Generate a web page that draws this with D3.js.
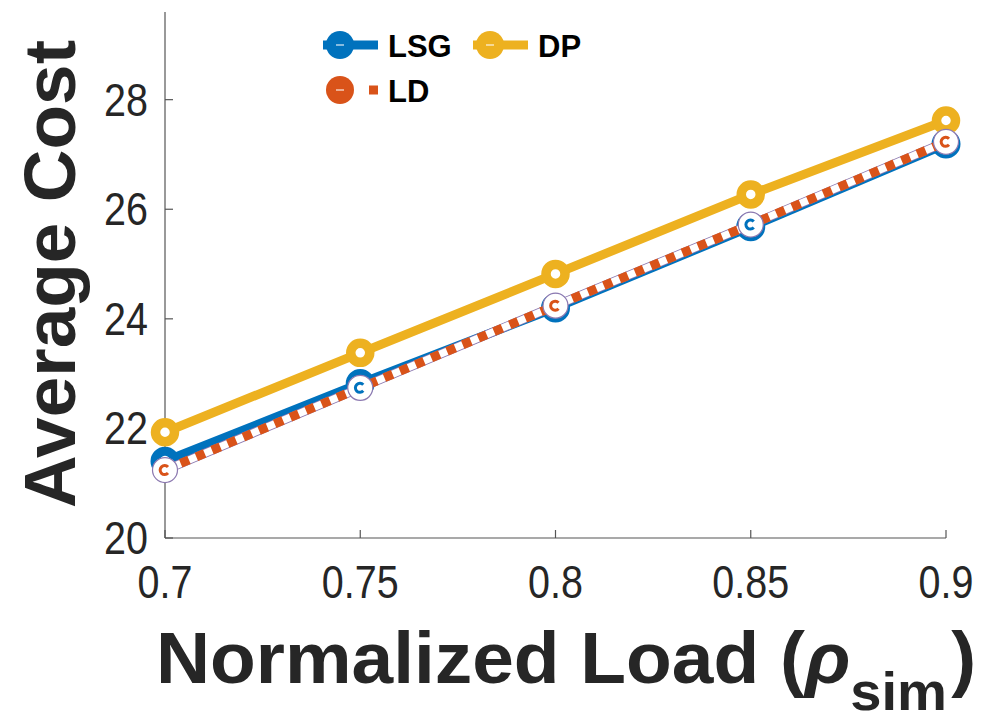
<!DOCTYPE html>
<html>
<head>
<meta charset="utf-8">
<script src="https://d3js.org/d3.v7.min.js"></script>
<style>
body { margin: 0; background: #fff; }
svg { display: block; font-family: "Liberation Sans", Arial, Helvetica, sans-serif; }
</style>
</head>
<body>
<svg width="993" height="722"></svg>
<script>
// data
var loads = [0.7, 0.75, 0.8, 0.85, 0.9];
var lsgCost = [21.4, 22.82, 24.2, 25.68, 27.19];
var ldCost = [21.24, 22.74, 24.24, 25.72, 27.23];
var dpCost = [21.93, 23.38, 24.82, 26.27, 27.62];
var xTicks = [0.7, 0.75, 0.8, 0.85, 0.9];
var yTicks = [20, 22, 24, 26, 28];

var blue = "#0072BD", orange = "#D95319", yellow = "#EDB120";

var svg = d3.select("svg");

var x = d3.scaleLinear().domain([0.7, 0.9]).range([165, 946]);
var y = d3.scaleLinear().domain([20, 29.6]).range([538, 12]);

var line = d3.line()
  .x(function (d) { return x(d[0]); })
  .y(function (d) { return y(d[1]); });

function pts(vals) { return loads.map(function (l, i) { return [l, vals[i]]; }); }

// axes (left + bottom only, ticks inside)
var axisColor = "#555";
svg.append("line").attr("x1", x(0.7)).attr("x2", x(0.9)).attr("y1", y(20)).attr("y2", y(20))
  .attr("stroke", axisColor).attr("stroke-width", 1.2);
svg.append("line").attr("x1", x(0.7)).attr("x2", x(0.7)).attr("y1", y(20)).attr("y2", y(29.6))
  .attr("stroke", axisColor).attr("stroke-width", 1.2);

svg.selectAll("line.xt").data(xTicks).enter().append("line").attr("class", "xt")
  .attr("x1", function (d) { return x(d); }).attr("x2", function (d) { return x(d); })
  .attr("y1", y(20)).attr("y2", y(20) - 8)
  .attr("stroke", axisColor).attr("stroke-width", 1.2);
svg.selectAll("line.yt").data(yTicks).enter().append("line").attr("class", "yt")
  .attr("x1", x(0.7)).attr("x2", x(0.7) + 8)
  .attr("y1", function (d) { return y(d); }).attr("y2", function (d) { return y(d); })
  .attr("stroke", axisColor).attr("stroke-width", 1.2);

// tick labels, slightly condensed/tall like the original font
svg.selectAll("text.xl").data(xTicks).enter().append("text").attr("class", "xl")
  .attr("transform", function (d) { return "translate(" + x(d) + ",598) scale(0.94,1.1)"; })
  .attr("text-anchor", "middle").attr("font-size", 42).attr("fill", "#262626")
  .text(function (d) { return d3.format("")(d); });
svg.selectAll("text.yl").data(yTicks).enter().append("text").attr("class", "yl")
  .attr("transform", function (d) { return "translate(148," + (y(d) + 16) + ") scale(0.94,1.1)"; })
  .attr("text-anchor", "end").attr("font-size", 42).attr("fill", "#262626")
  .text(function (d) { return d; });

// axis titles
svg.append("text")
  .attr("transform", "translate(75,274) rotate(-90)")
  .attr("text-anchor", "middle").attr("font-size", 73).attr("font-weight", "bold")
  .attr("fill", "#262626").text("Average Cost");

var xt = svg.append("text").attr("transform", "translate(156,683) scale(1.04,1)")
  .attr("font-size", 72).attr("font-weight", "bold").attr("fill", "#262626");
xt.append("tspan").text("Normalized Load (");
xt.append("tspan").attr("font-style", "italic").text("\u03C1");
xt.append("tspan").attr("font-size", 54).attr("dy", 27).text("sim");
xt.append("tspan").attr("dy", -27).attr("dx", 4).text(")");

// LSG series
svg.append("path").datum(pts(lsgCost)).attr("d", line)
  .attr("fill", "none").attr("stroke", blue).attr("stroke-width", 9);
svg.selectAll("circle.lsg").data(pts(lsgCost)).enter().append("circle").attr("class", "lsg")
  .attr("cx", function (d) { return x(d[0]); }).attr("cy", function (d) { return y(d[1]); })
  .attr("r", 10).attr("fill", "#fff").attr("stroke", blue).attr("stroke-width", 9);

// LD series: orange dashes with white gaps and a thin outline
svg.append("path").datum(pts(ldCost)).attr("d", line)
  .attr("fill", "none").attr("stroke", "#8c79b0").attr("stroke-width", 9);
svg.append("path").datum(pts(ldCost)).attr("d", line)
  .attr("fill", "none").attr("stroke", "#fff").attr("stroke-width", 7.4);
svg.append("path").datum(pts(ldCost)).attr("d", line)
  .attr("fill", "none").attr("stroke", orange).attr("stroke-width", 9)
  .attr("stroke-dasharray", "9,8");

// DP series
svg.append("path").datum(pts(dpCost)).attr("d", line)
  .attr("fill", "none").attr("stroke", yellow).attr("stroke-width", 9);
svg.selectAll("circle.dp").data(pts(dpCost)).enter().append("circle").attr("class", "dp")
  .attr("cx", function (d) { return x(d[0]); }).attr("cy", function (d) { return y(d[1]); })
  .attr("r", 9.5).attr("fill", "#fff").attr("stroke", yellow).attr("stroke-width", 9.5);

// LD markers on top
var ldm = svg.selectAll("g.ld").data(pts(ldCost)).enter().append("g").attr("class", "ld")
  .attr("transform", function (d) { return "translate(" + x(d[0]) + "," + y(d[1]) + ")"; });
ldm.append("circle").attr("r", 12.5).attr("fill", "#fff")
  .attr("stroke", "#8c79b0").attr("stroke-width", 1.2);
ldm.append("path").attr("d", "M3,-3 A4.5,4.5 0 1,0 3,3")
  .attr("fill", "none").attr("stroke", function (d, i) { return i % 2 ? blue : orange; })
  .attr("stroke-width", 3);

// legend
var legend = [
  { name: "LSG", color: blue, x: 323, y: 45, dash: null },
  { name: "DP", color: yellow, x: 473, y: 45, dash: null },
  { name: "LD", color: orange, x: 323, y: 90, dash: "0,46,9,20" }
];
var lg = svg.selectAll("g.leg").data(legend).enter().append("g").attr("class", "leg")
  .attr("transform", function (d) { return "translate(" + d.x + "," + d.y + ")"; });
lg.append("line").attr("x1", 0).attr("x2", 55).attr("y1", 0).attr("y2", 0)
  .attr("stroke", function (d) { return d.color; }).attr("stroke-width", 9)
  .attr("stroke-dasharray", function (d) { return d.dash; });
lg.append("circle").attr("cx", 17).attr("cy", 0).attr("r", 14)
  .attr("fill", function (d) { return d.color; });
lg.append("line").attr("x1", 13).attr("x2", 21).attr("y1", 0).attr("y2", 0)
  .attr("stroke", "#fff").attr("stroke-width", 1.5).attr("opacity", 0.7);
lg.append("text").attr("x", 65).attr("y", 12).attr("font-size", 31).attr("font-weight", "bold")
  .attr("fill", "#000").text(function (d) { return d.name; });
</script>
</body>
</html>
